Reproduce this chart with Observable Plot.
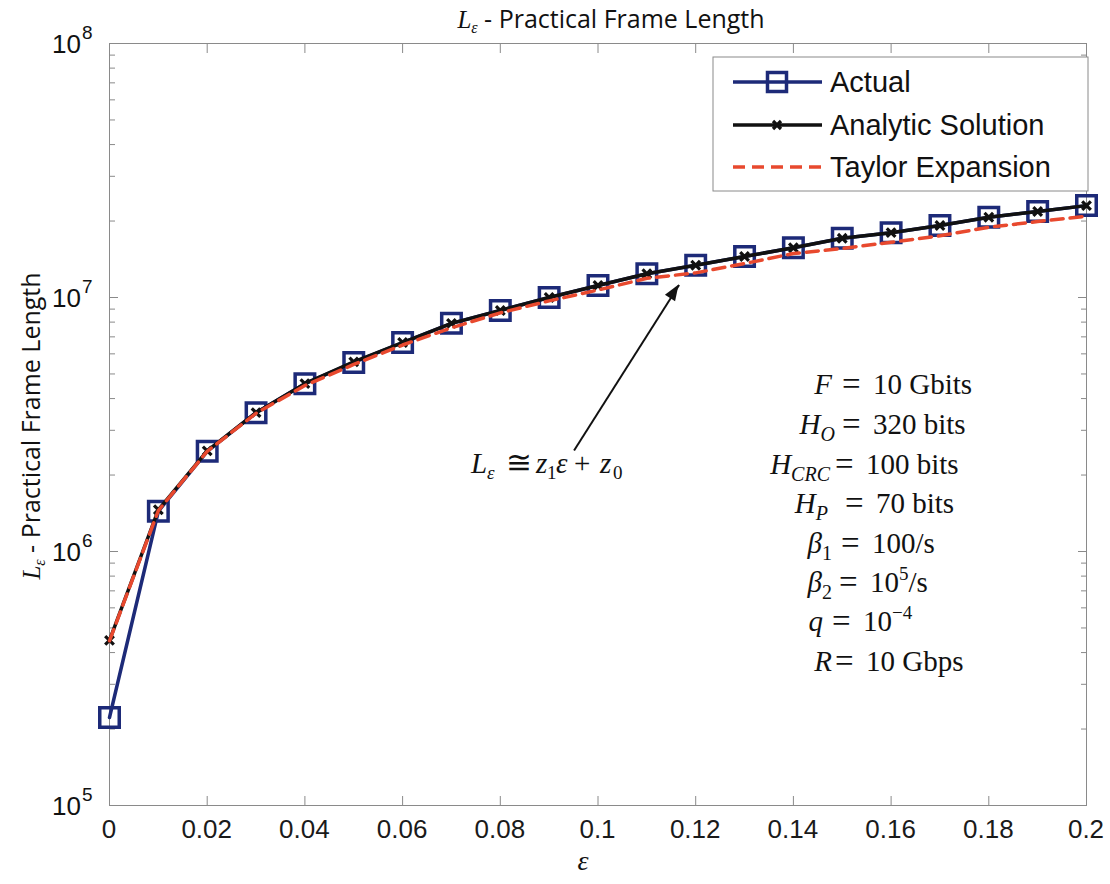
<!DOCTYPE html>
<html><head><meta charset="utf-8">
<script src="https://cdn.jsdelivr.net/npm/d3@7"></script>
<script src="https://cdn.jsdelivr.net/npm/@observablehq/plot@0.6"></script>
<style>body{margin:0;background:#fff} svg{display:block}</style>
</head><body><div id="chart"></div>
<script>
// ---- data ----
const epsilon  = [0,0.01,0.02,0.03,0.04,0.05,0.06,0.07,0.08,0.09,0.10,0.11,0.12,0.13,0.14,0.15,0.16,0.17,0.18,0.19,0.20];
const actual   = [2.22e5,1.44e6,2.48e6,3.52e6,4.58e6,5.55e6,6.65e6,7.91e6,8.89e6,1.0e7,1.115e7,1.24e7,1.34e7,1.45e7,1.57e7,1.71e7,1.80e7,1.92e7,2.07e7,2.18e7,2.30e7];
const analytic = [4.47e5,1.46e6,2.49e6,3.52e6,4.58e6,5.58e6,6.65e6,7.91e6,8.89e6,1.0e7,1.115e7,1.24e7,1.34e7,1.45e7,1.57e7,1.71e7,1.80e7,1.92e7,2.07e7,2.18e7,2.30e7];
const taylor   = [4.45e5,1.45e6,2.48e6,3.50e6,4.50e6,5.45e6,6.50e6,7.60e6,8.70e6,9.70e6,1.07e7,1.19e7,1.25e7,1.36e7,1.49e7,1.56e7,1.65e7,1.75e7,1.89e7,1.99e7,2.09e7];
const xTicks = [0,0.02,0.04,0.06,0.08,0.1,0.12,0.14,0.16,0.18,0.2];
const xTickLabels = ["0","0.02","0.04","0.06","0.08","0.1","0.12","0.14","0.16","0.18","0.2"];
const yDecades = [1e5,1e6,1e7,1e8];
const yExponents = ["5","6","7","8"];
const seriesNames = ["Actual","Analytic Solution","Taylor Expansion"];
// parameter box: [symbol, subscript, subscript italic?]
const paramLeft  = [["F","",false],["H","O",true],["H","CRC",true],["H","P",true],["β","1",false],["β","2",false],["q","",false],["R","",false]];
// [value, superscript, tail]
const paramRight = [["10 Gbits"],["320 bits"],["100 bits"],["70 bits"],["100/s"],["10","5","/s"],["10","−4",""],["10 Gbps"]];
const arrowTail = {x: 0.0951, y: 2.5e6};
const arrowHead = {x: 0.1166, y: 1.12e7};

const minorTicks = [];
for (const d of [1e5,1e6,1e7]) for (let k = 2; k <= 9; k++) minorTicks.push(d*k);

const rows = epsilon.map((e,i) => ({e, actual: actual[i], analytic: analytic[i], taylor: taylor[i]}));

const NAVY = "#1d2a78", RED = "#e8492e", AXIS = "#8a8a8a";
const W = 1110, H = 884;

const plot = Plot.plot({
  width: W, height: H,
  marginLeft: 109, marginRight: 24, marginTop: 43, marginBottom: 79,
  style: {background: "#fff", overflow: "visible"},
  x: {domain: [0, 0.2]},
  y: {type: "log", domain: [1e5, 1e8]},
  marks: [
    Plot.frame({stroke: AXIS, strokeWidth: 1}),
    Plot.axisX(xTicks, {anchor: "bottom", tickSize: -9, stroke: AXIS, text: null, label: null}),
    Plot.axisX(xTicks, {anchor: "top", tickSize: -9, stroke: AXIS, text: null, label: null}),
    Plot.axisY(yDecades, {anchor: "left", tickSize: -9, stroke: AXIS, text: null, label: null}),
    Plot.axisY(yDecades, {anchor: "right", tickSize: -9, stroke: AXIS, text: null, label: null}),
    Plot.axisY(minorTicks, {anchor: "left", tickSize: -6, stroke: AXIS, text: null, label: null}),
    Plot.axisY(minorTicks, {anchor: "right", tickSize: -6, stroke: AXIS, text: null, label: null}),
    Plot.line(rows, {x: "e", y: "actual", stroke: NAVY, strokeWidth: 3.5}),
    Plot.dot(rows, {x: "e", y: "actual", symbol: "square", r: 11, stroke: NAVY, strokeWidth: 3.5, fill: "none"}),
    Plot.line(rows, {x: "e", y: "analytic", stroke: "#111", strokeWidth: 3.5}),
    Plot.dot(rows, {x: "e", y: "analytic", symbol: "times", r: 4, stroke: "#111", strokeWidth: 3.2}),
    Plot.line(rows, {x: "e", y: "taylor", stroke: RED, strokeWidth: 3.5, strokeDasharray: "12,7"}),
    Plot.link([0], {x1: () => arrowTail.x, y1: () => arrowTail.y, x2: () => arrowHead.x, y2: () => arrowHead.y,
      stroke: "#111", strokeWidth: 2})
  ]
});
document.getElementById("chart").append(plot);

const svg = d3.select(plot);
const xs = plot.scale("x"), ys = plot.scale("y");
const SANS = "'Liberation Sans', Arial, sans-serif";
const SERIF = "'Liberation Serif', 'Times New Roman', serif";
const NARROW = "'Liberation Sans Narrow', 'Open Sans', sans-serif";

// filled arrow head
{
  const tx = xs.apply(arrowTail.x), ty = ys.apply(arrowTail.y);
  const hx = xs.apply(arrowHead.x), hy = ys.apply(arrowHead.y);
  const a = Math.atan2(hy - ty, hx - tx), L = 16, w = 6;
  const bx = hx - L*Math.cos(a), by = hy - L*Math.sin(a);
  const px = -Math.sin(a)*w, py = Math.cos(a)*w;
  svg.append("path").attr("d", `M${hx},${hy}L${bx+px},${by+py}L${bx-px},${by-py}Z`).attr("fill","#111");
}

const txt = (x, y, anchor) => svg.append("text").attr("x", x).attr("y", y).attr("text-anchor", anchor).attr("fill", "#111");

// x tick labels
xTicks.forEach((t,i) => {
  txt(xs.apply(t), 838, "middle").attr("font-family", SANS).attr("font-size", 26).attr("fill","#1a1a1a").text(xTickLabels[i]);
});
// y tick labels
yDecades.forEach((d,i) => {
  const y = ys.apply(d);
  txt(81, y + 10, "end").attr("font-family", SANS).attr("font-size", 26).text("10");
  txt(82, y - 4, "start").attr("font-family", SANS).attr("font-size", 19).text(yExponents[i]);
});

// title
const title = txt(611, 28, "middle").attr("font-family", NARROW).attr("font-size", 25);
title.append("tspan").attr("font-family", SERIF).attr("font-style","italic").text("L");
title.append("tspan").attr("font-family", SERIF).attr("font-style","italic").attr("font-size",16).attr("dy",5).text("ε");
title.append("tspan").attr("dy",-5).text(" - Practical Frame Length");

// y axis title
const yt = svg.append("text").attr("transform","translate(40,426) rotate(-90)").attr("text-anchor","middle")
  .attr("font-family", NARROW).attr("font-size", 25).attr("fill","#111");
yt.append("tspan").attr("font-family", SERIF).attr("font-style","italic").text("L");
yt.append("tspan").attr("font-family", SERIF).attr("font-style","italic").attr("font-size",16).attr("dy",5).text("ε");
yt.append("tspan").attr("dy",-5).text(" - Practical Frame Length");

// x axis title
txt(583, 870, "middle").attr("font-family", SERIF).attr("font-style","italic").attr("font-size", 28).text("ε");

// legend
const lg = svg.append("g");
lg.append("rect").attr("x",713).attr("y",57).attr("width",375).attr("height",134)
  .attr("fill","#fff").attr("stroke", AXIS).attr("stroke-width",1);
const ly = [82,125,167];
const lx1 = 733, lx2 = 822, lxm = 777;
lg.append("line").attr("x1",lx1).attr("x2",lx2).attr("y1",ly[0]).attr("y2",ly[0]).attr("stroke",NAVY).attr("stroke-width",3.5);
lg.append("rect").attr("x",lxm-9.5).attr("y",ly[0]-9.5).attr("width",19).attr("height",19).attr("fill","none").attr("stroke",NAVY).attr("stroke-width",3.5);
lg.append("line").attr("x1",lx1).attr("x2",lx2).attr("y1",ly[1]).attr("y2",ly[1]).attr("stroke","#111").attr("stroke-width",3.5);
lg.append("path").attr("d",`M${lxm-4},${ly[1]-4}L${lxm+4},${ly[1]+4}M${lxm-4},${ly[1]+4}L${lxm+4},${ly[1]-4}`).attr("stroke","#111").attr("stroke-width",3.2);
lg.append("line").attr("x1",lx1).attr("x2",lx2).attr("y1",ly[2]).attr("y2",ly[2]).attr("stroke",RED).attr("stroke-width",3.5).attr("stroke-dasharray","12,7");
seriesNames.forEach((n,i) => {
  lg.append("text").attr("x",830).attr("y",ly[i]+10).attr("text-anchor","start").attr("font-family",SANS).attr("font-size",29).attr("fill","#111").text(n);
});

// parameters
const leftEnd = [832,835,830,828,832,832,823,832];
const eqX     = [842,842,835,845,841,839,832,835];
const baseY   = [394,434,474,513,553,592,631,671];
paramLeft.forEach((p,i) => {
  const t = txt(leftEnd[i], baseY[i], "end").attr("font-family", SERIF).attr("font-size", 29);
  t.append("tspan").attr("font-style","italic").text(p[0]);
  if (p[1]) t.append("tspan").attr("font-style", p[2] ? "italic" : "normal").attr("font-size",20).attr("dy",7).text(p[1]);
  txt(eqX[i], baseY[i] + 1, "start").attr("font-family", SERIF).attr("font-size", 33).text("=");
  const r = paramRight[i];
  const u = txt(eqX[i] + 31, baseY[i], "start").attr("font-family", SERIF).attr("font-size", 29);
  u.append("tspan").text(r[0]);
  if (r.length === 3) {
    u.append("tspan").attr("font-size",19).attr("dy",-12).text(r[1]);
    if (r[2]) u.append("tspan").attr("dy",12).attr("font-size",29).text(r[2]);
  }
});

// annotation formula
const fy = 473;
const part = (x, s, opts = {}) => {
  const t = txt(x, fy + (opts.dy || 0), "start").attr("font-family", SERIF).attr("font-size", opts.size || 29);
  if (opts.italic) t.attr("font-style", "italic");
  t.text(s);
};
part(471, "L", {italic: true});
part(487, "ε", {italic: true, size: 19, dy: 6});
part(506, "≅", {size: 31});
part(536, "z", {italic: true});
part(547, "1", {size: 19, dy: 6});
part(556, "ε", {italic: true});
part(574, "+", {size: 29});
part(600, "z", {italic: true});
part(613, "0", {size: 19, dy: 6});
</script>
</body></html>
